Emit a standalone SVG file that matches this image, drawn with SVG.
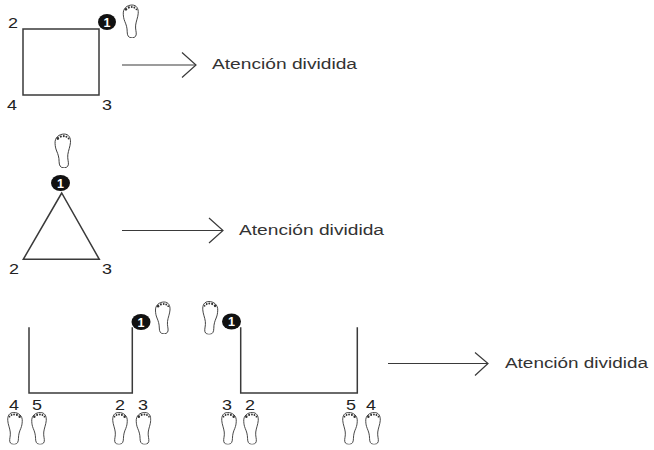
<svg xmlns="http://www.w3.org/2000/svg" xmlns:xlink="http://www.w3.org/1999/xlink" width="654" height="450" viewBox="0 0 654 450">
<style>
.ln{fill:none;stroke:#3a3a3a;stroke-width:1.5;stroke-linecap:square}
.ar{fill:none;stroke:#3a3a3a;stroke-width:1.2}
.lbl{font-family:"Liberation Sans",Arial,sans-serif;font-size:15.5px;fill:#333}
.num{font-family:"Liberation Sans",Arial,sans-serif;font-size:14.5px;fill:#222}
.one{font-family:"Liberation Sans",Arial,sans-serif;font-size:12.5px;font-weight:bold;fill:#fff;text-anchor:middle}
.dot{fill:#111}
</style>
<defs>
<symbol id="foot" viewBox="0 0 16 33">
<path d="M1,10 C0.5,4 5,1 9.5,1 C14,1 15.8,4.5 15.5,9 C15.2,13 13.5,16.5 13,20.5 C12.5,24.5 14,27.5 13.5,30 C13,32.5 10.5,33 8.5,32.8 C6,32.5 4.8,30.5 4.8,27 C4.8,23 3.8,20 2.5,17 C1.3,14 1.2,12.5 1,10 Z" fill="#fff" stroke="#333" stroke-width="0.9"/>
<g fill="#333">
<ellipse cx="3.6" cy="5.2" rx="1.2" ry="1.4"/>
<ellipse cx="6.4" cy="3.4" rx="1" ry="1.1"/>
<ellipse cx="9.2" cy="3" rx="0.9" ry="1"/>
<ellipse cx="11.7" cy="3.5" rx="0.9" ry="1"/>
<ellipse cx="13.7" cy="5.2" rx="0.8" ry="0.9"/>
</g>
</symbol>
</defs>
<rect width="654" height="450" fill="#fff"/>

<g id="square">
<rect class="ln" x="23" y="29" width="76" height="66"/>
<text class="num" x="8" y="27.5" textLength="10" lengthAdjust="spacingAndGlyphs">2</text>
<text class="num" x="7" y="109.5" textLength="10" lengthAdjust="spacingAndGlyphs">4</text>
<text class="num" x="102" y="109.5" textLength="10" lengthAdjust="spacingAndGlyphs">3</text>
<ellipse class="dot" cx="107" cy="22" rx="9" ry="8"/>
<text class="one" x="107" y="26.5">1</text>
<use xlink:href="#foot" x="122" y="4" width="17" height="34"/>
</g>

<g id="triangle">
<polygon class="ln" points="61.7,193 23.3,259.3 99.3,259.3" stroke-linejoin="miter"/>
<text class="num" x="9" y="273.5" textLength="10" lengthAdjust="spacingAndGlyphs">2</text>
<text class="num" x="102" y="273.5" textLength="10" lengthAdjust="spacingAndGlyphs">3</text>
<ellipse class="dot" cx="60.5" cy="183" rx="9.5" ry="8"/>
<text class="one" x="60.5" y="187.5">1</text>
<use xlink:href="#foot" x="53.5" y="133" width="18" height="35"/>
</g>

<g id="u-left">
<polyline class="ln" points="29,328 29,393 132.3,393 132.3,328"/>
<ellipse class="dot" cx="141" cy="322" rx="9.5" ry="8"/>
<text class="one" x="141" y="326.5">1</text>
<use xlink:href="#foot" x="154" y="301" width="17" height="33"/>
<text class="num" x="9" y="409.5" textLength="10" lengthAdjust="spacingAndGlyphs">4</text>
<text class="num" x="32" y="409.5" textLength="10" lengthAdjust="spacingAndGlyphs">5</text>
<text class="num" x="115" y="409.5" textLength="10" lengthAdjust="spacingAndGlyphs">2</text>
<text class="num" x="138" y="409.5" textLength="10" lengthAdjust="spacingAndGlyphs">3</text>
<use xlink:href="#foot" transform="translate(23.5,0) scale(-1,1)" x="0" y="411.5" width="16.5" height="33"/>
<use xlink:href="#foot" x="30.5" y="411.5" width="16.5" height="33"/>
<use xlink:href="#foot" transform="translate(128.5,0) scale(-1,1)" x="0" y="411.5" width="16.5" height="33"/>
<use xlink:href="#foot" x="135" y="411.5" width="16.5" height="33"/>
</g>

<g id="u-right">
<polyline class="ln" points="240.7,328 240.7,393 357.3,393 357.3,328"/>
<ellipse class="dot" cx="231.5" cy="321.5" rx="9.5" ry="8"/>
<text class="one" x="231.5" y="326">1</text>
<use xlink:href="#foot" transform="translate(219,0) scale(-1,1)" x="0" y="300.5" width="17" height="34"/>
<text class="num" x="222" y="409.5" textLength="10" lengthAdjust="spacingAndGlyphs">3</text>
<text class="num" x="245" y="409.5" textLength="10" lengthAdjust="spacingAndGlyphs">2</text>
<text class="num" x="346" y="409.5" textLength="10" lengthAdjust="spacingAndGlyphs">5</text>
<text class="num" x="366" y="409.5" textLength="10" lengthAdjust="spacingAndGlyphs">4</text>
<use xlink:href="#foot" transform="translate(237.5,0) scale(-1,1)" x="0" y="411.5" width="16.5" height="33"/>
<use xlink:href="#foot" x="242.5" y="411.5" width="16.5" height="33"/>
<use xlink:href="#foot" transform="translate(358.5,0) scale(-1,1)" x="0" y="411.5" width="16.5" height="33"/>
<use xlink:href="#foot" x="364.5" y="411.5" width="16.5" height="33"/>
</g>

<g id="connectors">
<line class="ar" x1="122" y1="65" x2="196" y2="65"/>
<polyline class="ar" points="182,52.5 196,65 182,77.5"/>
<line class="ar" x1="122" y1="230.5" x2="223" y2="230.5"/>
<polyline class="ar" points="209,218 223,230.5 209,243"/>
<line class="ar" x1="388" y1="363.5" x2="488" y2="363.5"/>
<polyline class="ar" points="475,352.5 488,363.5 475,375.5"/>
</g>

<g id="labels">
<text class="lbl" x="212" y="69" textLength="145" lengthAdjust="spacingAndGlyphs">Atención dividida</text>
<text class="lbl" x="239" y="234.5" textLength="145" lengthAdjust="spacingAndGlyphs">Atención dividida</text>
<text class="lbl" x="505" y="368" textLength="143" lengthAdjust="spacingAndGlyphs">Atención dividida</text>
</g>
</svg>
